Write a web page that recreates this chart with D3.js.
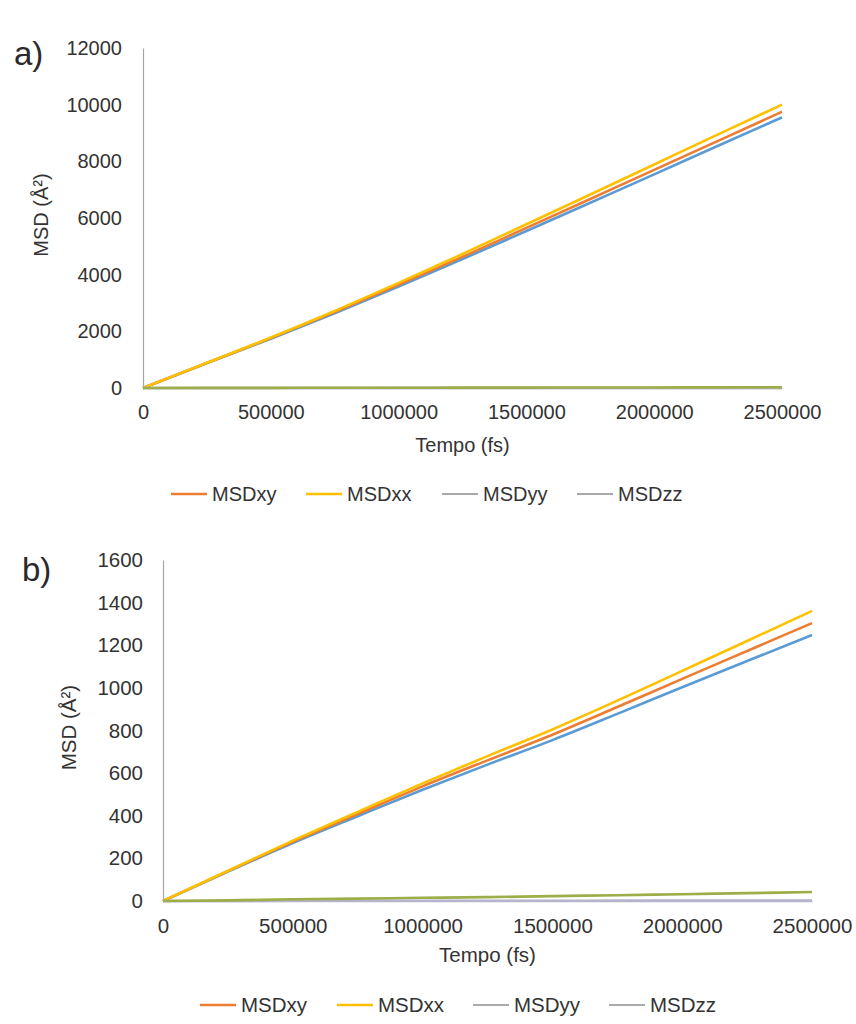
<!DOCTYPE html>
<html>
<head>
<meta charset="utf-8">
<script src="https://cdn.jsdelivr.net/npm/d3@7"></script>
<style>
  html, body { margin: 0; padding: 0; background: #ffffff; }
  svg { display: block; font-family: "Liberation Sans", Arial, sans-serif; }
</style>
</head>
<body>
<svg id="chart" width="856" height="1024"></svg>
<script>
// ---------------- DATA ----------------
const timeFs = [0, 250000, 500000, 750000, 1000000, 1250000, 1500000, 1750000, 2000000, 2250000, 2500000];
const xTicks = [0, 500000, 1000000, 1500000, 2000000, 2500000];

// Panel a
const aYTicks = [0, 2000, 4000, 6000, 8000, 10000, 12000];
const aMSD   = [0, 880, 1740, 2640, 3580, 4550, 5540, 6540, 7540, 8550, 9550];
const aMSDxy = [0, 885, 1760, 2680, 3640, 4630, 5650, 6670, 7700, 8720, 9750];
const aMSDxx = [0, 890, 1780, 2720, 3710, 4730, 5780, 6830, 7890, 8950, 10000];
const aMSDyy = [0, 3, 5, 8, 10, 12, 15, 17, 20, 22, 25];
const aMSDzz = [0, 1, 2, 2, 3, 3, 4, 4, 5, 5, 6];

// Panel b
const bYTicks = [0, 200, 400, 600, 800, 1000, 1200, 1400, 1600];
const bMSD   = [0, 138, 272, 398, 522, 640, 755, 878, 1003, 1126, 1248];
const bMSDxy = [0, 140, 278, 408, 538, 660, 780, 910, 1042, 1173, 1304];
const bMSDxx = [0, 142, 283, 418, 552, 680, 805, 940, 1080, 1220, 1361];
const bMSDyy = [0, 3, 8, 11, 15, 18, 23, 27, 32, 37, 42];
const bMSDzz = [0, 0, 1, 1, 1, 1, 1, 2, 2, 2, 2];

const legendNames  = ["MSDxy", "MSDxx", "MSDyy", "MSDzz"];
const legendColors = ["#ED7D31", "#FFC000", "#8c8c8c", "#8c8c8c"];
const lineColors = { MSD: "#5B9BD5", MSDxy: "#ED7D31", MSDxx: "#FFC000", MSDyy: "#9DAE48", MSDzz: "#B4B4CC" };

// ---------------- DRAW ----------------
const svg = d3.select("#chart");
const textColor = "#333333";

function drawPanel(cfg) {
  const g = svg.append("g");
  const x = d3.scaleLinear().domain([0, 2500000]).range([cfg.left, cfg.right]);
  const y = d3.scaleLinear().domain([0, cfg.yMax]).range([cfg.bottom, cfg.top]);

  // y axis
  const yAxis = d3.axisLeft(y).tickValues(cfg.yTicks).tickSize(0).tickPadding(cfg.yPad).tickFormat(d3.format("d"));
  const ya = g.append("g").attr("transform", `translate(${cfg.left},0)`).call(yAxis);
  ya.select(".domain").attr("stroke", "#a6a6a6").attr("stroke-width", 1.2);
  ya.selectAll("text").attr("font-size", cfg.fs).attr("fill", textColor)
    .attr("font-family", "Liberation Sans, Arial, sans-serif");

  // x axis
  const xAxis = d3.axisBottom(x).tickValues(xTicks).tickSize(0).tickPadding(cfg.xPad).tickFormat(d3.format("d"));
  const xa = g.append("g").attr("transform", `translate(0,${cfg.bottom})`).call(xAxis);
  xa.select(".domain").attr("stroke", cfg.xAxisColor).attr("stroke-width", 1.5);
  xa.selectAll("text").attr("font-size", cfg.fs).attr("fill", textColor)
    .attr("font-family", "Liberation Sans, Arial, sans-serif");

  // lines
  const line = d3.line().x((d, i) => x(timeFs[i])).y(d => y(d)).curve(d3.curveMonotoneX);
  cfg.series.forEach(s => {
    g.append("path").datum(s.values)
      .attr("fill", "none")
      .attr("stroke", lineColors[s.name])
      .attr("stroke-width", 2.6)
      .attr("stroke-linejoin", "round")
      .attr("d", line);
  });

  // axis titles
  g.append("text")
    .attr("x", (cfg.left + cfg.right) / 2).attr("y", cfg.xTitleY)
    .attr("text-anchor", "middle").attr("font-size", cfg.fs).attr("fill", textColor)
    .text("Tempo (fs)");
  g.append("text")
    .attr("transform", `translate(${cfg.yTitleX},${(cfg.top + cfg.bottom) / 2 - 3}) rotate(-90)`)
    .attr("text-anchor", "middle").attr("font-size", cfg.fs).attr("fill", textColor)
    .text("MSD (Å²)");

  // panel label
  g.append("text").attr("x", cfg.labelX).attr("y", cfg.labelY)
    .attr("font-size", 33).attr("fill", "#2a2a2a").text(cfg.label);

  // legend
  const lg = g.append("g").attr("transform", `translate(0,${cfg.legendY})`);
  legendNames.forEach((n, i) => {
    const lx = cfg.legendX[i];
    lg.append("line").attr("x1", lx).attr("x2", lx + 36).attr("y1", 0).attr("y2", 0)
      .attr("stroke", legendColors[i]).attr("stroke-width", i < 2 ? 2.4 : 1.4);
    lg.append("text").attr("x", lx + 41).attr("y", 0).attr("dy", "0.35em")
      .attr("font-size", cfg.fs).attr("fill", textColor).text(n);
  });
}

drawPanel({
  label: "a)", labelX: 14, labelY: 65,
  left: 143, right: 782, top: 48, bottom: 388, yMax: 12000,
  yTicks: aYTicks, yPad: 21, xPad: 17, fs: 20,
  xAxisColor: "#b8b8c8",
  xTitleY: 452, yTitleX: 48,
  legendY: 494, legendX: [171, 306, 442, 577],
  series: [
    { name: "MSD", values: aMSD },
    { name: "MSDxy", values: aMSDxy },
    { name: "MSDxx", values: aMSDxx },
    { name: "MSDzz", values: aMSDzz },
    { name: "MSDyy", values: aMSDyy }
  ]
});

drawPanel({
  label: "b)", labelX: 22, labelY: 581,
  left: 163, right: 812, top: 560, bottom: 901, yMax: 1600,
  yTicks: bYTicks, yPad: 20, xPad: 17, fs: 20.5,
  xAxisColor: "#b4b4cc",
  xTitleY: 962, yTitleX: 76,
  legendY: 1005, legendX: [200, 337, 473, 609],
  series: [
    { name: "MSD", values: bMSD },
    { name: "MSDxy", values: bMSDxy },
    { name: "MSDxx", values: bMSDxx },
    { name: "MSDzz", values: bMSDzz },
    { name: "MSDyy", values: bMSDyy }
  ]
});
</script>
</body>
</html>
